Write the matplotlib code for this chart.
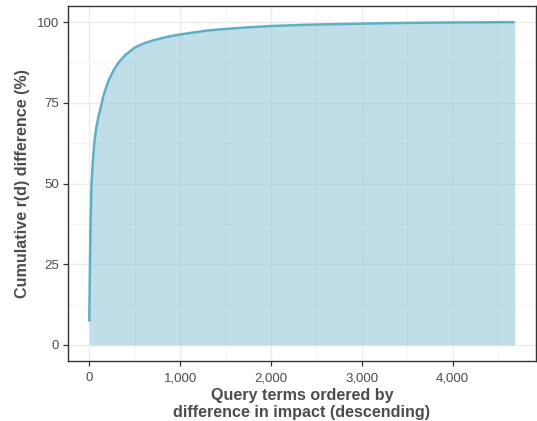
import matplotlib
matplotlib.use("Agg")
import matplotlib.pyplot as plt
from matplotlib.ticker import FixedLocator, FuncFormatter

plt.rcParams['font.family'] = ['Liberation Sans', 'DejaVu Sans']

# data
terms = [0, 3, 8, 14, 25, 40, 55, 75, 100, 130, 158, 213, 268, 323, 400, 500,
         600, 709, 850, 1000, 1150, 1300, 1500, 1750, 2000, 2400, 2750, 3200,
         3600, 4000, 4683]
cum_pct = [7.2, 14, 25, 37.5, 50, 57, 62.5, 67, 70.5, 74, 77.4, 82, 85.1, 87.5,
           89.9, 92.1, 93.4, 94.4, 95.4, 96.2, 96.8, 97.4, 97.9, 98.4, 98.8,
           99.2, 99.4, 99.65, 99.8, 99.9, 100]

x_major = [0, 1000, 2000, 3000, 4000]
x_minor = [500, 1500, 2500, 3500, 4500]
y_major = [0, 25, 50, 75, 100]
y_minor = [12.5, 37.5, 62.5, 87.5]

line_col = '#5eaec5'
fill_col = '#8cc4d4'

fig = plt.figure(figsize=(5.37, 4.21), dpi=100)
ax = fig.add_axes([0.1266, 0.1425, 0.998 - 0.1266, 0.9857 - 0.1425])

xmax = max(terms)
ax.set_xlim(-0.05 * xmax, xmax * 1.05)
ax.set_ylim(-5, 105)

ax.xaxis.set_major_locator(FixedLocator(x_major))
ax.xaxis.set_minor_locator(FixedLocator(x_minor))
ax.yaxis.set_major_locator(FixedLocator(y_major))
ax.yaxis.set_minor_locator(FixedLocator(y_minor))
ax.xaxis.set_major_formatter(FuncFormatter(lambda v, p: f"{int(v):,}"))
ax.yaxis.set_major_formatter(FuncFormatter(lambda v, p: f"{int(v)}"))

ax.grid(which='major', color='#ebebeb', linewidth=1.0)
ax.grid(which='minor', color='#f2f2f2', linewidth=0.6)
ax.set_axisbelow(True)

ax.fill_between(terms, 0, cum_pct, color=fill_col, alpha=0.55, linewidth=0)
ax.plot(terms, cum_pct, color=line_col, linewidth=1.8, solid_capstyle='butt')

for s in ax.spines.values():
    s.set_color('#333333')
    s.set_linewidth(1.0)

ax.tick_params(which='major', length=3.5, width=0.9, color='#333333',
               labelsize=9.5, labelcolor='#4d4d4d')
ax.tick_params(axis='x', which='major', pad=4.5)
ax.tick_params(axis='y', which='major', pad=3)
ax.tick_params(which='minor', length=0)

ax.set_xlabel('Query terms ordered by\ndifference in impact (descending)',
              fontsize=11.6, fontweight='bold', color='#4d4d4d', labelpad=3,
              linespacing=1.12)
ax.set_ylabel('Cumulative r(d) difference (%)', fontsize=11.6, fontweight='bold',
              color='#4d4d4d', labelpad=5)

fig.savefig('out.png', dpi=100)
